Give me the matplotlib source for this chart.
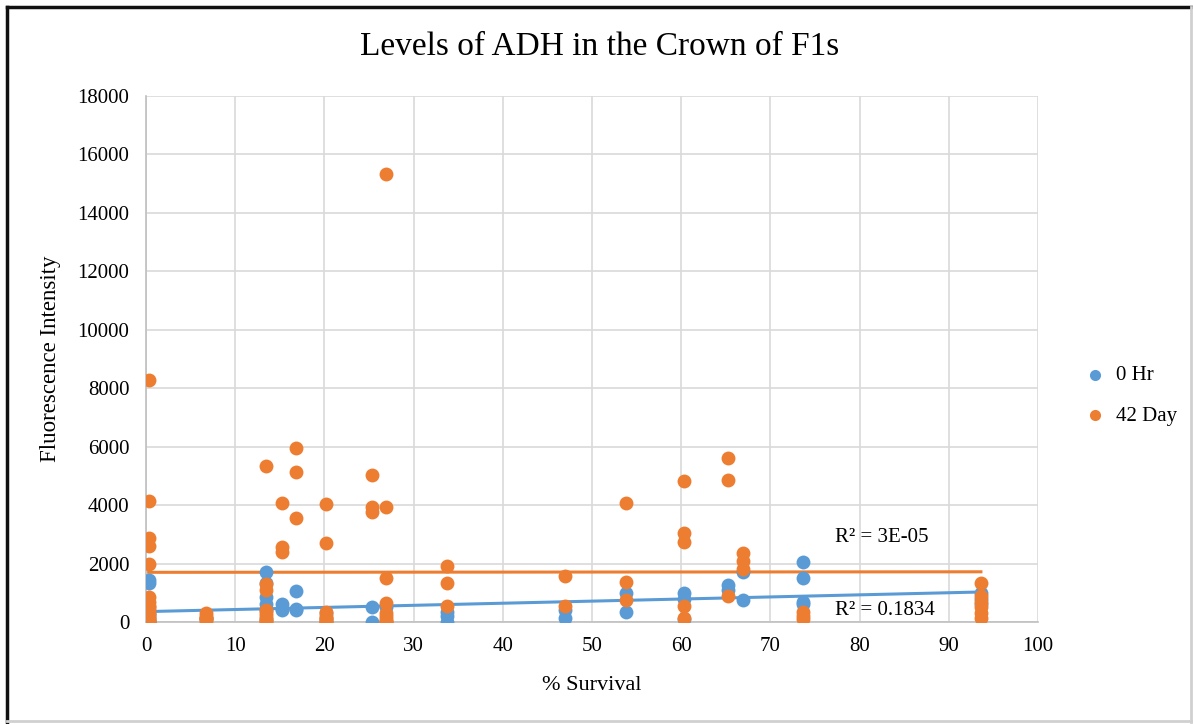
import numpy as np
import matplotlib.pyplot as plt
from matplotlib.lines import Line2D

plt.rcParams['font.family'] = ['Liberation Serif', 'DejaVu Serif']

# survival (%) for each group of F1 plants
survival = [0.3, 6.7, 13.5, 15.3, 16.8, 20.2, 25.3, 26.9, 33.7, 47.0,
            53.8, 60.3, 65.3, 66.9, 73.6, 93.6]

# fluorescence readings per group, 0 hr
hr0 = [
    [1450, 1350, 300, 200, 100, 0, 0, 0],
    [150, 100],
    [1700, 1350, 850, 600, 400, 100],
    [600, 450, 400],
    [1050, 450, 400],
    [300, 100, 0],
    [520, 0],
    [500, 0],
    [350, 200, 0],
    [400, 150],
    [1000, 350],
    [1000, 800, 100],
    [1250, 1100],
    [1700, 750],
    [2070, 1500, 700, 600],
    [1000, 800, 600],
]

# fluorescence readings per group, 42 day
day42 = [
    [8290, 4130, 2870, 2600, 2000, 850, 700, 550, 500, 400, 300, 250,
     150, 100, 50, 0, 0],
    [300, 200, 150, 100, 0],
    [5350, 1300, 1100, 400, 300, 200, 100, 50, 0],
    [4080, 2550, 2400],
    [5960, 5150, 3570],
    [4050, 2700, 350, 200, 150, 100, 0, 0],
    [5030, 3950, 3750],
    [15330, 3950, 1500, 650, 300, 200, 100, 50, 0],
    [1930, 1350, 550],
    [1580, 550],
    [4080, 1380, 750],
    [4830, 3050, 2750, 550, 150],
    [5600, 4870, 900],
    [2350, 2100, 1800],
    [350, 200, 100],
    [1330, 900, 700, 500, 300, 150],
]


def flatten(groups):
    xs, ys = [], []
    for x, vals in zip(survival, groups):
        for v in vals:
            xs.append(x)
            ys.append(v)
    return np.array(xs), np.array(ys)


blue = '#5b9bd5'
orange = '#ed7d31'

fig = plt.figure(figsize=(11.93, 7.24), dpi=100)
ax = fig.add_axes([146 / 1193, 1 - 622 / 724, (1038 - 146) / 1193, (622 - 96) / 724])

xb, yb = flatten(hr0)
xo, yo = flatten(day42)

ax.scatter(xb, yb, s=100, color=blue, label='0 Hr', zorder=3, linewidths=0)
ax.scatter(xo, yo, s=100, color=orange, label='42 Day', zorder=3, linewidths=0)

# linear trendlines over the data range
for xs, ys, c in [(xb, yb, blue), (xo, yo, orange)]:
    k, b = np.polyfit(xs, ys, 1)
    xl = np.array([xs.min(), xs.max()])
    ax.plot(xl, k * xl + b, color=c, lw=2.2, zorder=2)

ax.text(77.2, 2900, 'R² = 3E-05', fontsize=15, ha='left', va='center')
ax.text(77.2, 400, 'R² = 0.1834', fontsize=15, ha='left', va='center', zorder=4)

ax.set_xlim(0, 100)
ax.set_ylim(0, 18000)
ax.set_xticks(np.arange(0, 101, 10))
ax.set_yticks(np.arange(0, 18001, 2000))
ax.grid(True, color='#d9d9d9', lw=1.2)
ax.set_axisbelow(True)
ax.tick_params(length=0, labelsize=15)
ax.tick_params(axis='y', pad=12)
ax.tick_params(axis='x', pad=11)
for s in ['top', 'right']:
    ax.spines[s].set_visible(False)
for s in ['left', 'bottom']:
    ax.spines[s].set_color('#bfbfbf')
    ax.spines[s].set_linewidth(1.2)

ax.set_xlabel('% Survival', fontsize=16, labelpad=14)
ax.set_ylabel('Fluorescence Intensity', fontsize=16.5, labelpad=12)
fig.text(600 / 1193, 1 - 47 / 724, 'Levels of ADH in the Crown of F1s',
         fontsize=24, ha='center', va='center')

ax.legend(loc='center left', bbox_to_anchor=(1.02, 0.43), frameon=False,
          fontsize=15, handletextpad=0.0, markerscale=0.8, labelspacing=1.0)

# outer frame: dark top/left, light bottom/right
frame = [((7, 7), (7, 722), '#111111', 2.5),
         ((7, 1193), (7, 7), '#111111', 2.5),
         ((7, 1193), (721, 721), '#d0d0d0', 2.0),
         ((1191, 1191), (7, 722), '#d0d0d0', 2.0)]
for xs, ys, c, w in frame:
    fig.add_artist(Line2D([x / 1193 for x in xs], [1 - y / 724 for y in ys],
                          color=c, lw=w, transform=fig.transFigure))

fig.savefig('out.png', dpi=100)
